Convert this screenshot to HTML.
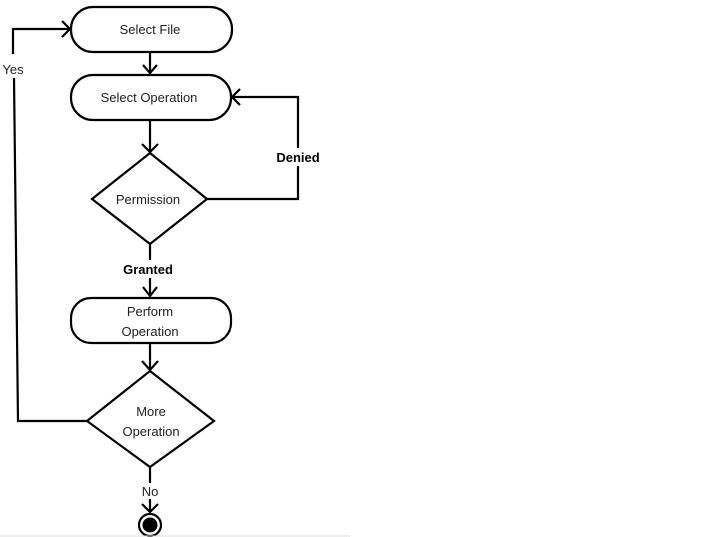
<!DOCTYPE html>
<html><head><meta charset="utf-8"><style>
html,body{margin:0;padding:0;background:#fff;}
svg{display:block;}
text{font-family:"Liberation Sans","DejaVu Sans",sans-serif;font-size:13px;fill:#222;}
.b{font-weight:bold;fill:#000;font-size:13px;}
</style></head><body>
<svg width="722" height="537" viewBox="0 0 722 537" xmlns="http://www.w3.org/2000/svg">
<g fill="none" stroke="#000" stroke-width="2.2">
<rect x="71" y="7" width="161" height="45" rx="22"/>
<rect x="71" y="75" width="160" height="45" rx="22"/>
<polygon points="150,153 207,199 150,244 92,199" fill="#fff"/>
<rect x="71" y="298" width="160" height="45" rx="20"/>
<polygon points="150,371 214,421 150,467 87,421" fill="#fff"/>
<!-- connectors -->
<line x1="150" y1="52" x2="150" y2="74"/>
<polyline points="143,65 150,73 157,65"/>
<line x1="150" y1="120" x2="150" y2="152"/>
<polyline points="142,144 150,152 158,144"/>
<polyline points="207,199 298,199 298,97 232,97"/>
<polyline points="240,89 232,97 240,105"/>
<line x1="150" y1="244" x2="150" y2="296"/>
<polyline points="143,287 150,296 157,287"/>
<line x1="150" y1="343" x2="150" y2="370"/>
<polyline points="142,361 150,370 158,361"/>
<polyline points="87,421 18,421 14,78"/>
<polyline points="13,54 13,29 70,29"/>
<polyline points="62,21 70,29 62,37"/>
<line x1="150" y1="467" x2="150" y2="512"/>
<polyline points="142,504 150,512 158,504"/>
<circle cx="150" cy="525" r="11"/>
</g>
<circle cx="150" cy="525" r="7.5" fill="#000"/>
<line x1="0" y1="536" x2="350" y2="536" stroke="#ddd" stroke-width="1"/>
<rect x="270" y="148" width="56" height="18" fill="#fff"/>
<rect x="115" y="260" width="66" height="18" fill="#fff"/>
<rect x="138" y="483" width="24" height="16" fill="#fff"/>
<text x="150" y="34" text-anchor="middle">Select File</text>
<text x="149" y="102" text-anchor="middle">Select Operation</text>
<text x="148" y="204" text-anchor="middle">Permission</text>
<text x="150" y="316" text-anchor="middle">Perform</text>
<text x="150" y="336" text-anchor="middle">Operation</text>
<text x="151" y="416" text-anchor="middle">More</text>
<text x="151" y="436" text-anchor="middle">Operation</text>
<text x="298" y="162" text-anchor="middle" class="b">Denied</text>
<text x="148" y="274" text-anchor="middle" class="b">Granted</text>
<text x="150" y="496" text-anchor="middle">No</text>
<text x="13" y="74" text-anchor="middle">Yes</text>
</svg>
</body></html>
